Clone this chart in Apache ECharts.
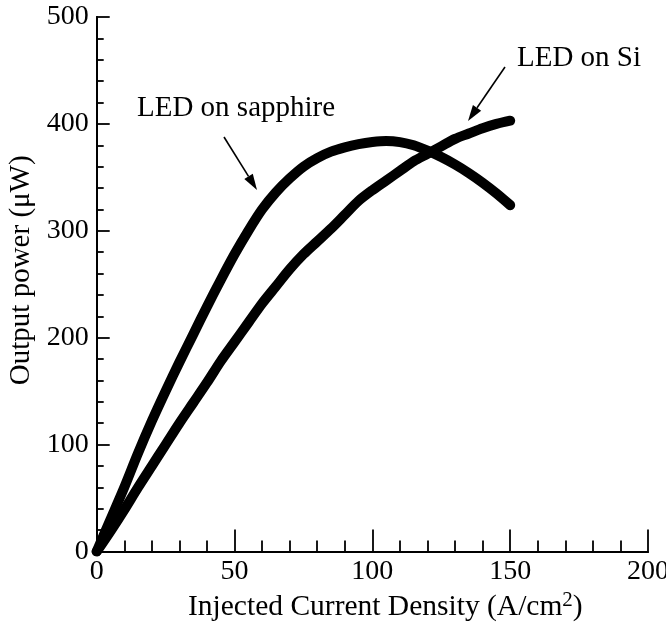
<!DOCTYPE html>
<html>
<head>
<meta charset="utf-8">
<script src="https://cdn.jsdelivr.net/npm/echarts@6/dist/echarts.min.js"></script>
<style>
html,body{margin:0;padding:0;background:#fff;}
#chart{width:666px;height:624px;}
</style>
</head>
<body>
<div id="chart"></div>
<script>
// ---- data ----
const currentDensity = [0,5,10,15,20,25,30,35,40,45,50,55,60,65,70,75,80,85,90,95,100,105,110,115,120,125,130,135,140,145,150];
const powerSapphire = [0,30,60,92,122,150,177,203,229,254,278,300,320,336,349,360,368,374,378,381,383,384,383,380,375,369,362,354,345,335,324];
const powerSi = [0,19,39,60,80,100,120,139,158,178,196,214,232,248,264,278,290,302,315,328,338,347,356,365,372,379,386,391,396,400,403];
const xTicks = [0,50,100,150,200];
const yTicks = [0,100,200,300,400,500];
const labelSapphire = 'LED on sapphire';
const labelSi = 'LED on Si';

const font = '"Liberation Serif", "Times New Roman", serif';
const chart = echarts.init(document.getElementById('chart'), null, {renderer:'canvas'});

function pairs(xs, ys){ return xs.map((x,i)=>[x, ys[i]]); }

const axisLine = {show:true, lineStyle:{color:'#000', width:2}};

function arrow(x1,y1,x2,y2){
  const ang = Math.atan2(y2-y1, x2-x1);
  const L = 16, W = 5;
  const bx = x2 - L*Math.cos(ang), by = y2 - L*Math.sin(ang);
  const px = -Math.sin(ang)*W, py = Math.cos(ang)*W;
  return [
    {type:'line', shape:{x1:x1,y1:y1,x2:bx,y2:by}, style:{stroke:'#000', lineWidth:1.6}, z:10},
    {type:'polygon', shape:{points:[[x2,y2],[bx+px,by+py],[bx-px,by-py]]}, style:{fill:'#000'}, z:10}
  ];
}

const option = {
  backgroundColor:'#fff',
  animation:false,
  grid:{left:96.7, right:18, top:17, bottom:72.5, containLabel:false, outerBoundsMode:'none'},
  xAxis:[{
    type:'value', min:xTicks[0], max:xTicks[xTicks.length-1], interval:50,
    position:'bottom',
    axisLine:axisLine,
    axisTick:{show:true, inside:true, length:22, lineStyle:{color:'#000', width:1.8}},
    minorTick:{show:true, splitNumber:5, length:11, lineStyle:{color:'#000', width:1.8}},
    splitLine:{show:false},
    axisLabel:{color:'#000', fontFamily:font, fontSize:28, margin:6},
    name:'Injected Current Density (A/cm{sup|2})',
    nameLocation:'middle', nameGap:37,
    nameTextStyle:{color:'#000', fontFamily:font, fontSize:29.5, padding:[0,0,0,26],
      rich:{sup:{fontFamily:font, fontSize:21, color:'#000', verticalAlign:'top', padding:[0,0,12,0]}}}
  },{
    type:'value', min:0, max:200, position:'top',
    axisLine:axisLine, axisTick:{show:false}, axisLabel:{show:false}, splitLine:{show:false}
  }],
  yAxis:[{
    type:'value', min:yTicks[0], max:yTicks[yTicks.length-1], interval:100,
    axisLine:axisLine,
    axisTick:{show:true, inside:true, length:13, lineStyle:{color:'#000', width:1.8}},
    minorTick:{show:true, splitNumber:5, length:7, lineStyle:{color:'#000', width:1.8}},
    splitLine:{show:false},
    axisLabel:{color:'#000', fontFamily:font, fontSize:28, margin:8},
    name:'Output power (\u03bcW)',
    nameLocation:'middle', nameGap:55,
    nameTextStyle:{color:'#000', fontFamily:font, fontSize:29, padding:[0,0,0,28]}
  },{
    type:'value', min:0, max:500, position:'right',
    axisLine:axisLine, axisTick:{show:false}, axisLabel:{show:false}, splitLine:{show:false}
  }],
  series:[{
    name:labelSapphire, type:'line', data:pairs(currentDensity, powerSapphire),
    showSymbol:false, smooth:0.3,
    lineStyle:{color:'#000', width:10, cap:'round', join:'round'}
  },{
    name:labelSi, type:'line', data:pairs(currentDensity, powerSi),
    showSymbol:false, smooth:0.3,
    lineStyle:{color:'#000', width:10, cap:'round', join:'round'}
  }],
  graphic:[
    {type:'text', left:137, top:94, style:{text:labelSapphire, font:'29px ' + font, fill:'#000'}, z:10},
    {type:'text', left:517, top:44, style:{text:labelSi, font:'29px ' + font, fill:'#000'}, z:10},
    ...arrow(224,137,257,190),
    ...arrow(505,67,468,121)
  ]
};
chart.setOption(option);
</script>
</body>
</html>
